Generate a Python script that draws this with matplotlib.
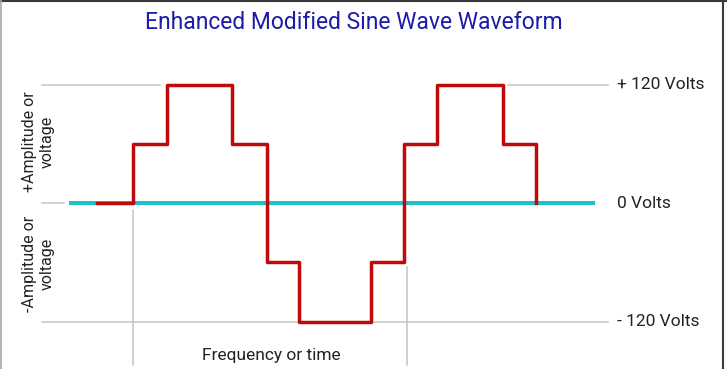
"""Enhanced modified sine wave: stepped waveform sketch drawn on a volts/time axis."""

import matplotlib
matplotlib.use("Agg")
import matplotlib.pyplot as plt
from matplotlib.lines import Line2D

# step edges of the waveform (time in step units) and the voltage held after each edge
step_time = [0.0, 1.05, 2.05, 3.97, 5.0, 5.95, 8.05, 9.03, 10.0, 11.95, 12.9]
step_volts = [0, 60, 120, 60, -60, -120, -60, 60, 120, 60, 0]

level_labels = ["+ 120 Volts", "0 Volts", "- 120 Volts"]
level_values = [120, 0, -120]

TITLE = "Enhanced Modified Sine Wave Waveform"
XLABEL = "Frequency or time"
POS_LABEL = "+Amplitude or\nvoltage"
NEG_LABEL = "-Amplitude or\nvoltage"

RED = "#bf0a0a"
CYAN = "#1cc2c6"
GRID = "#c4c4c4"
INK = "#222222"

plt.rcParams["font.family"] = ["Roboto", "DejaVu Sans"]

fig = plt.figure(figsize=(7.27, 3.69), dpi=100)
ax = fig.add_axes([0, 0, 1, 1])
ax.set_xlim(-2.85, 18.53)
ax.set_ylim(-168.1, 205.6)
ax.axis("off")

# gray reference lines
ax.plot([-1.62, 1.85], [120, 120], color=GRID, lw=1.1, zorder=1)
ax.plot([12.1, 15.03], [120, 120], color=GRID, lw=1.1, zorder=1)
ax.plot([-1.62, -0.97], [0, 0], color=GRID, lw=1.1, zorder=1)
ax.plot([-1.62, 15.03], [-120, -120], color=GRID, lw=1.1, zorder=1)
ax.plot([1.06, 1.06], [-7, -164], color=GRID, lw=1.1, zorder=1)
ax.plot([9.12, 9.12], [-65, -164], color=GRID, lw=1.1, zorder=1)

# zero line and waveform
ax.plot([-0.82, 14.65], [0, 0], color=CYAN, lw=2.9, zorder=2, solid_capstyle="butt")
ax.step(step_time, step_volts, where="post", color=RED, lw=2.5, zorder=3)

for lab, v in zip(level_labels, level_values):
    ax.text(15.3, v, lab, ha="left", va="center", fontsize=12.5, color=INK)

ax.text(5.12, -154, XLABEL, ha="center", va="center", fontsize=12.5, color=INK)
ax.text(-1.72, 62, POS_LABEL, rotation=90, ha="center", va="center",
        fontsize=11.5, color=INK, linespacing=1.25)
ax.text(-1.72, -62, NEG_LABEL, rotation=90, ha="center", va="center",
        fontsize=11.5, color=INK, linespacing=1.25)

fig.text(0.486, 0.94, TITLE, ha="center", va="center", fontsize=16.5, color="#1c1ca6")

# picture frame
W, H = 727, 369
fig.add_artist(Line2D([0, 1], [1 - 0.8 / H, 1 - 0.8 / H], color="#3a3a3a", lw=1.5))
fig.add_artist(Line2D([0.6 / W, 0.6 / W], [0, 1], color="#a8a8a8", lw=1.2))
fig.add_artist(Line2D([723 / W, 723 / W], [0, 1], color="#3a3a3a", lw=1.5))

fig.savefig("out.png", dpi=100)
